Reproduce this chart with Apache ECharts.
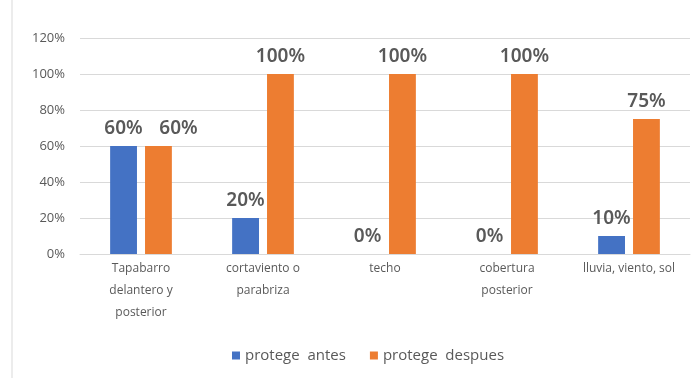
<!DOCTYPE html>
<html>
<head>
<meta charset="utf-8">
<script src="https://cdn.jsdelivr.net/npm/echarts@6/dist/echarts.min.js"></script>
<style>
  html, body { margin: 0; padding: 0; background: #fff; }
  #main { width: 699px; height: 378px; }
</style>
</head>
<body>
<div id="main"></div>
<script>
// datos
var categorias = ["Tapabarro\ndelantero y\nposterior", "cortaviento o\nparabriza", "techo", "cobertura\nposterior", "lluvia, viento, sol"];
var protegeAntes = [60, 20, 0, 0, 10];
var protegeDespues = [60, 100, 100, 100, 75];
var ticksY = [0, 20, 40, 60, 80, 100, 120];

var chart = echarts.init(document.getElementById("main"));

var etiqueta = {
  show: true,
  position: "top",
  formatter: "{c}%",
  color: "#595959",
  fontSize: 19,
  fontWeight: 600,
  fontFamily: "Noto Sans",
  distance: 8
};

// como en Excel, la etiqueta naranja se corre a la derecha cuando choca con la azul
var datosDespues = protegeDespues.map(function (v, i) {
  if (v === protegeAntes[i]) {
    return { value: v, label: { offset: [20, 0] } };
  }
  return v;
});

chart.setOption({
  animation: false,
  textStyle: { fontFamily: "Open Sans" },
  // borde izquierdo del recuadro
  graphic: [{
    type: "line",
    shape: { x1: 12, y1: 0, x2: 12, y2: 378 },
    style: { stroke: "#d9d9d9", lineWidth: 1 }
  }],
  legend: {
    data: ["protege  antes", "protege  despues"],
    bottom: 10,
    left: 227,
    itemWidth: 8,
    itemHeight: 8,
    itemGap: 24,
    icon: "rect",
    textStyle: { color: "#595959", fontSize: 15 }
  },
  grid: { left: 80, right: 9, top: 38, bottom: 124 },
  xAxis: {
    type: "category",
    data: categorias,
    axisTick: { show: false },
    axisLine: { lineStyle: { color: "#d9d9d9" } },
    axisLabel: { color: "#595959", fontSize: 12, margin: 4, lineHeight: 22, interval: 0 }
  },
  yAxis: {
    type: "value",
    min: ticksY[0],
    max: ticksY[ticksY.length - 1],
    interval: 20,
    axisLabel: { color: "#595959", fontSize: 13, formatter: "{value}%", margin: 15 },
    axisLine: { show: false },
    axisTick: { show: false },
    splitLine: { lineStyle: { color: "#d9d9d9" } }
  },
  series: [
    {
      name: "protege  antes",
      type: "bar",
      data: protegeAntes,
      barWidth: "22%",
      barGap: "30%",
      itemStyle: { color: "#4472c4" },
      label: etiqueta
    },
    {
      name: "protege  despues",
      type: "bar",
      data: datosDespues,
      barWidth: "22%",
      itemStyle: { color: "#ed7d31" },
      label: etiqueta
    }
  ]
});
</script>
</body>
</html>
